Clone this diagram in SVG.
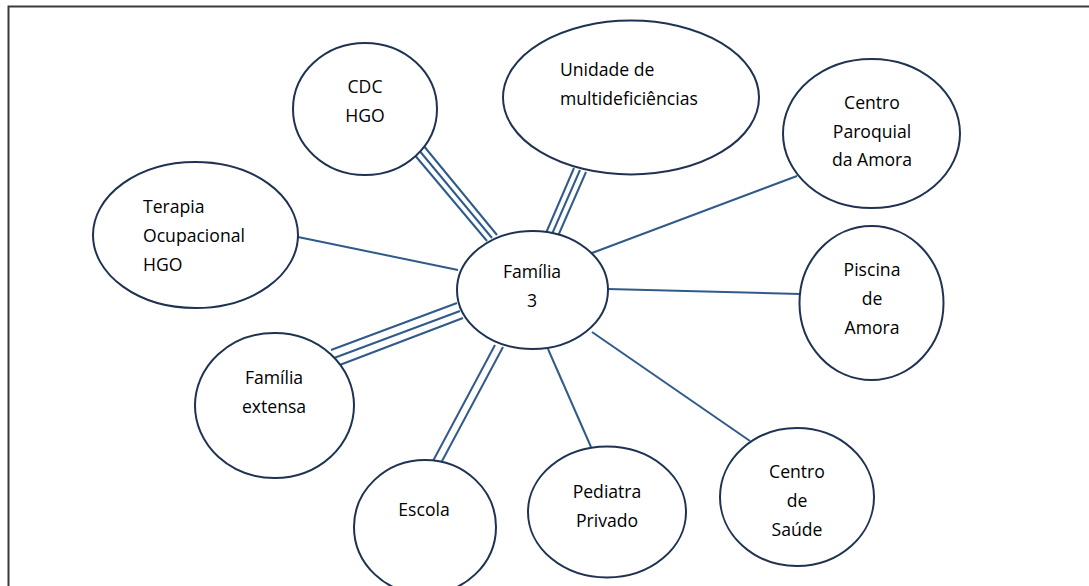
<svg xmlns="http://www.w3.org/2000/svg" width="1089" height="586" viewBox="0 0 1089 586">
<style>
.node ellipse{fill:#ffffff;stroke:#1f3252;stroke-width:2}
.node text{font-family:"Open Sans","Liberation Sans",sans-serif;font-size:17.6px;fill:#000000}
.c{text-anchor:middle}
#connectors line{stroke:#2f5a8a;stroke-width:2}
</style>
<rect width="1089" height="586" fill="#ffffff"/>
<path d="M8.5 600 V6.5 H1100" fill="none" stroke="#3a3a3a" stroke-width="2"/>
<g id="connectors">
<line x1="298" y1="237" x2="458" y2="270"/>
<line x1="413" y1="153" x2="487" y2="241"/>
<line x1="418" y1="149" x2="492" y2="238"/>
<line x1="423" y1="145" x2="497" y2="235"/>
<line x1="574" y1="168" x2="546" y2="233"/>
<line x1="580" y1="170" x2="552" y2="234"/>
<line x1="586" y1="172" x2="558" y2="236"/>
<line x1="797" y1="176" x2="592" y2="253"/>
<line x1="608" y1="289" x2="800" y2="294"/>
<line x1="331" y1="350" x2="457" y2="303"/>
<line x1="334" y1="358" x2="460" y2="311"/>
<line x1="337" y1="366" x2="463" y2="318"/>
<line x1="433" y1="461" x2="495" y2="345"/>
<line x1="441" y1="463" x2="503" y2="347"/>
<line x1="548" y1="349" x2="591" y2="447"/>
<line x1="592" y1="332" x2="750" y2="441"/>
</g>
<g id="cdc" class="node"><ellipse cx="365" cy="109" rx="72" ry="66"/><text class="c" x="365" y="93">CDC</text><text class="c" x="365" y="122">HGO</text></g>
<g id="terapia" class="node"><ellipse cx="195.5" cy="235" rx="102.5" ry="73"/><text x="143" y="213">Terapia</text><text x="143" y="242">Ocupacional</text><text x="143" y="271">HGO</text></g>
<g id="unidade" class="node"><ellipse cx="631" cy="97.5" rx="128" ry="77"/><text x="560" y="76">Unidade de</text><text x="560" y="105">multideficiências</text></g>
<g id="paroquial" class="node"><ellipse cx="871.5" cy="133.5" rx="88.5" ry="74.5"/><text class="c" x="872" y="109">Centro</text><text class="c" x="872" y="138">Paroquial</text><text class="c" x="872" y="166">da Amora</text></g>
<g id="familia3" class="node"><ellipse cx="532.5" cy="290" rx="75.5" ry="59"/><text class="c" x="532" y="278">Família</text><text class="c" x="532" y="307">3</text></g>
<g id="piscina" class="node"><ellipse cx="871.5" cy="303" rx="72" ry="77"/><text class="c" x="872" y="276">Piscina</text><text class="c" x="872" y="305">de</text><text class="c" x="872" y="334">Amora</text></g>
<g id="extensa" class="node"><ellipse cx="274.5" cy="405.5" rx="79.5" ry="72.5"/><text class="c" x="274" y="384">Família</text><text class="c" x="274" y="413">extensa</text></g>
<g id="escola" class="node"><ellipse cx="425" cy="527" rx="71" ry="67"/><text class="c" x="424" y="516">Escola</text></g>
<g id="pediatra" class="node"><ellipse cx="607" cy="512" rx="79" ry="65.5"/><text class="c" x="607" y="498">Pediatra</text><text class="c" x="607" y="527">Privado</text></g>
<g id="saude" class="node"><ellipse cx="797" cy="497" rx="77" ry="69"/><text class="c" x="797" y="478">Centro</text><text class="c" x="797" y="507">de</text><text class="c" x="797" y="536">Saúde</text></g>
</svg>
